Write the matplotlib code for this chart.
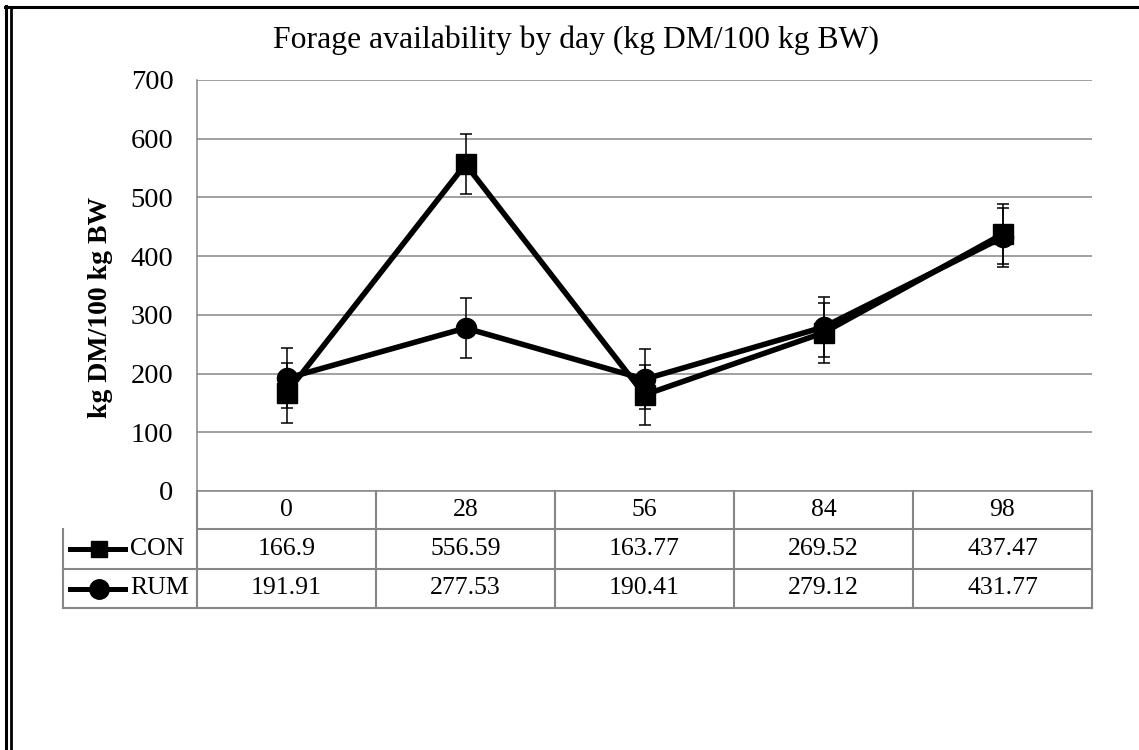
import matplotlib.pyplot as plt
from matplotlib.lines import Line2D

plt.rcParams['font.family'] = ['Liberation Serif', 'DejaVu Serif']

days = ['0', '28', '56', '84', '98']
con = [166.9, 556.59, 163.77, 269.52, 437.47]
rum = [191.91, 277.53, 190.41, 279.12, 431.77]
con_err = [51, 51, 51, 51, 51]
rum_err = [51, 51, 51, 51, 51]
series_names = ['CON', 'RUM']
series_markers = ['s', 'o']

W, H = 1139, 750
fig = plt.figure(figsize=(W / 100, H / 100), dpi=100)

# plot area in pixels
left, right, top, bottom = 197, 1092, 80, 491
ax = fig.add_axes([left / W, 1 - bottom / H, (right - left) / W, (bottom - top) / H])

grid_col = '#868686'
x = list(range(len(days)))
for vals, errs, mk, ms in [(con, con_err, 's', 15), (rum, rum_err, 'o', 14.5)]:
    ax.errorbar(x, vals, yerr=errs, fmt='none', ecolor='black', elinewidth=1.1,
                capsize=4.3, capthick=1.1, zorder=3)
    ax.plot(x, vals, color='black', lw=4, marker=mk, markersize=ms, zorder=4)

ax.set_xlim(-0.5, len(days) - 0.5)
ax.set_ylim(0, 700)
ax.set_yticks(range(0, 701, 100))
ax.yaxis.grid(True, color=grid_col, lw=1.1)
ax.set_axisbelow(True)
ax.tick_params(axis='y', length=0, pad=17, labelsize=20.5)
ax.set_xticks([])
for s in ['top', 'right']:
    ax.spines[s].set_visible(False)
for s in ['left', 'bottom']:
    ax.spines[s].set_color(grid_col)
    ax.spines[s].set_linewidth(1.1)

ax.set_ylabel('kg DM/100 kg BW', fontsize=20, fontweight='bold')
ax.yaxis.set_label_coords(-(left - 113) / (right - left), (bottom - 307) / (bottom - top))
fig.text(576 / W, 1 - 40 / H, 'Forage availability by day (kg DM/100 kg BW)',
         ha='center', va='center', fontsize=22.8)

# data table under the x axis: x in data coords, y in axes fraction
tr = ax.get_xaxis_transform()
ph = bottom - top
row_y = [0, -(529 - bottom) / ph, -(569 - bottom) / ph, -(608 - bottom) / ph]
col_w = (right - left) / len(days)
leg_left = -0.5 - (left - 63) / col_w
tk = dict(transform=tr, clip_on=False, color=grid_col, lw=1.5)

ax.add_line(Line2D([-0.5, len(days) - 0.5], [row_y[1]] * 2, **tk))
for yy in row_y[2:]:
    ax.add_line(Line2D([leg_left, len(days) - 0.5], [yy] * 2, **tk))
ax.add_line(Line2D([leg_left, leg_left], [row_y[1], row_y[3]], **tk))
for i in range(len(days) + 1):
    ax.add_line(Line2D([i - 0.5, i - 0.5], [row_y[0], row_y[3]], **tk))

for i, d in enumerate(days):
    ax.text(i, (row_y[0] + row_y[1]) / 2, d, transform=tr, ha='center',
            va='center', fontsize=18.5)

for r, (name, mk, vals) in enumerate(zip(series_names, series_markers, [con, rum])):
    yc = (row_y[r + 1] + row_y[r + 2]) / 2
    for i, v in enumerate(vals):
        ax.text(i, yc, f'{v:g}', transform=tr, ha='center', va='center',
                fontsize=18.5)
    # legend key in the first column
    kx0 = leg_left + 7 / col_w
    kx1 = leg_left + 62 / col_w
    ax.add_line(Line2D([kx0, kx1], [yc, yc], transform=tr, clip_on=False,
                       color='black', lw=3.6))
    ax.add_line(Line2D([leg_left + 36 / col_w], [yc], transform=tr, clip_on=False,
                       color='black', marker=mk, markersize=12 if mk == 's' else 14))
    ax.text(leg_left + 67 / col_w, yc, name, transform=tr, ha='left', va='center',
            fontsize=18.5)

# frame lines at the top and the double line at the left
fig.add_artist(Line2D([5 / W, 1], [1 - 7 / H] * 2, color='black', lw=2.2))
fig.add_artist(Line2D([6 / W] * 2, [0, 1 - 6 / H], color='black', lw=2.2))
fig.add_artist(Line2D([10.5 / W] * 2, [0, 1 - 8 / H], color='black', lw=2.0))

fig.savefig('out.png', dpi=100)
